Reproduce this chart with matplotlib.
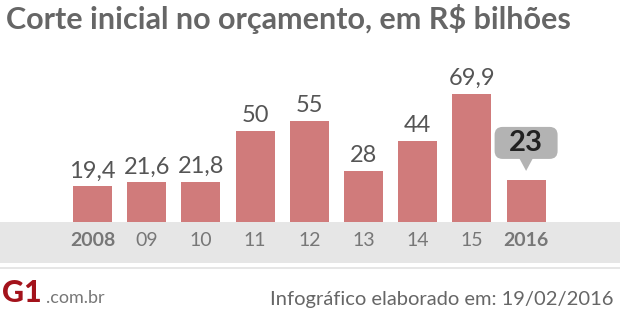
import matplotlib
matplotlib.use("Agg")
import matplotlib.pyplot as plt
from matplotlib.patches import Rectangle, FancyBboxPatch, Polygon
from matplotlib.transforms import Affine2D

categories = ["2008", "09", "10", "11", "12", "13", "14", "15", "2016"]
values = [19.4, 21.6, 21.8, 50, 55, 28, 44, 69.9, 23]
value_labels = ["19,4", "21,6", "21,8", "50", "55", "28", "44", "69,9", "23"]
bold_ticks = {"2008", "2016"}

W, H = 620, 314
fig = plt.figure(figsize=(W / 100, H / 100), dpi=100)
fig.patch.set_facecolor("white")

def py(y):  # pixel-from-top to figure fraction
    return 1 - y / H

# gray band & thin line
fig.patches.append(Rectangle((0, py(263)), 1, (263 - 222) / H, transform=fig.transFigure,
                             facecolor="#e6e6e6", edgecolor="none", zorder=-5))
fig.patches.append(Rectangle((0, py(268.5)), 1, 2 / H, transform=fig.transFigure,
                             facecolor="#e6e6e6", edgecolor="none", zorder=-5))

base_px, top_px = 222, 60
ax = fig.add_axes([0, py(base_px), 1, (base_px - top_px) / H])
ax.set_facecolor("none")
step, c0 = 54.2, 92.5
ax.set_xlim(-c0 / step, (W - c0) / step)
ax.set_ylim(0, (base_px - top_px) / 1.83)
ax.axis("off")

x = list(range(len(categories)))
ax.bar(x, values, width=0.72, color="#d07b7b", zorder=2)

fam = ["Lato", "DejaVu Sans"]
for i, (v, lab) in enumerate(zip(values, value_labels)):
    if i == len(values) - 1:
        continue
    ax.annotate(lab, (i, v), xytext=(0, 5), textcoords="offset pixels",
                ha="center", va="bottom", fontsize=17, color="#555555", family=fam)

# tick labels in band
for i, c in enumerate(categories):
    ax.annotate(c, (i, 0), xytext=(0, -18), textcoords="offset pixels",
                ha="center", va="center", fontsize=14, color="#777777", family=fam,
                fontweight="bold" if c in bold_ticks else "normal", annotation_clip=False)

# callout for last bar
fig.canvas.draw()
ax_ = ax.transData.transform((8, values[-1]))
tr = Affine2D().translate(ax_[0], ax_[1])
bw, bh = 63, 32
box = FancyBboxPatch((-bw / 2, 21), bw, bh, boxstyle="round,pad=0,rounding_size=8",
                     facecolor="#b3b3b3", edgecolor="none", transform=tr, zorder=3,
                     clip_on=False)
ax.add_patch(box)
tri = Polygon([(-7, 22), (7, 22), (0, 9)], closed=True, facecolor="#b3b3b3",
              edgecolor="none", transform=tr, zorder=3, clip_on=False)
ax.add_patch(tri)
ax.annotate(value_labels[-1], (8, values[-1]), xytext=(0, 37), textcoords="offset pixels",
            ha="center", va="center", fontsize=21, color="#222222", family=fam,
            fontweight="bold", zorder=5)

# title
fig.text(6 / W, py(19), "Corte inicial no orçamento, em R$ bilhões", ha="left", va="center",
         fontsize=22, color="#666666", family=fam, fontweight="bold")

# footer
fig.text(2 / W, py(293), "G1", ha="left", va="center", fontsize=22, color="#a3121b",
         family=fam, fontweight="black")
fig.text(46 / W, py(298), ".com.br", ha="left", va="center", fontsize=13, color="#777777",
         family=fam)
fig.text(614 / W, py(299), "Infográfico elaborado em: 19/02/2016", ha="right", va="center",
         fontsize=14.5, color="#666666", family=fam)

fig.savefig("out.png", dpi=100)
